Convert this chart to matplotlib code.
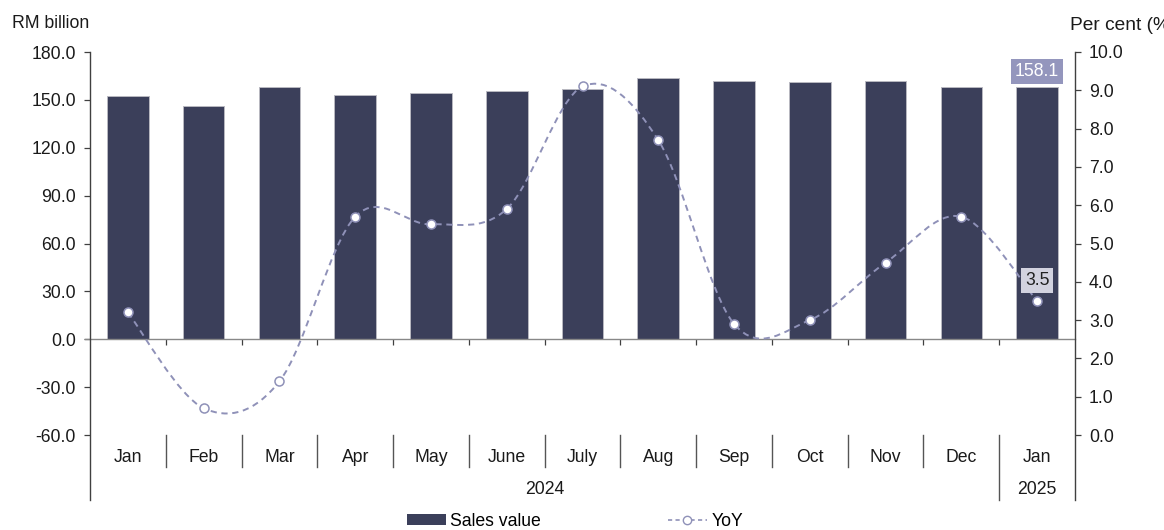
import matplotlib
matplotlib.use("Agg")
import matplotlib.pyplot as plt
from matplotlib.path import Path
from matplotlib.patches import PathPatch, Patch
from matplotlib.lines import Line2D
import matplotlib.transforms as mtransforms
import numpy as np

plt.rcParams['font.family'] = ['Liberation Sans', 'DejaVu Sans']

# ---- data ----
months = ['Jan', 'Feb', 'Mar', 'Apr', 'May', 'June', 'July', 'Aug', 'Sep', 'Oct', 'Nov', 'Dec', 'Jan']
years = ['2024', '2025']
year_counts = [12, 1]
sales_value = [152.3, 145.9, 158.2, 153.0, 154.4, 155.6, 156.7, 163.6, 161.7, 161.1, 161.7, 158.0, 158.1]
yoy = [3.2, 0.7, 1.4, 5.7, 5.5, 5.9, 9.1, 7.7, 2.9, 3.0, 4.5, 5.7, 3.5]
left_ticks = [-60, -30, 0, 30, 60, 90, 120, 150, 180]
right_ticks = [0, 1, 2, 3, 4, 5, 6, 7, 8, 9, 10]

BAR = '#3b3f5a'
LINE = '#8f91b8'
AXC = '#404040'
FS = 12.7

fig = plt.figure(figsize=(11.64, 5.30), dpi=100)
ax = fig.add_axes([90 / 1164, 1 - 435 / 530, (1075 - 90) / 1164, (435 - 52) / 530])
ax2 = ax.twinx()

x = np.arange(len(months))
ax.bar(x, sales_value, width=0.55, color=BAR, edgecolor='#b8b8c0', linewidth=0.7, zorder=2)
ax.set_xlim(-0.5, len(months) - 0.5)
ax.set_ylim(-60, 180)
ax.set_yticks(left_ticks)
ax.set_yticklabels([f'{v:.1f}' for v in left_ticks], fontsize=FS, color='#1a1a1a')
ax.tick_params(axis='y', direction='out', length=4, width=0.9, color=AXC, pad=6)

# category axis drawn at zero
for s in ['top', 'right', 'left']:
    ax.spines[s].set_visible(False)
ax.spines['bottom'].set_position(('data', 0))
ax.spines['bottom'].set_color('#888888')
ax.spines['bottom'].set_linewidth(1.0)
ax.spines['bottom'].set_bounds(-0.56, len(months) - 0.5)
ax.set_xticks(np.arange(len(months) - 1) + 0.5)
ax.set_xticklabels([])
ax.tick_params(axis='x', direction='out', length=4, width=0.9, color=AXC)

# vertical axis lines extend down past the category labels
ext = -65 / 383
for xa in (0, 1):
    ax.add_line(Line2D([xa, xa], [ext, 1], transform=ax.transAxes, color=AXC,
                       linewidth=1.0, clip_on=False, zorder=5))

# category separators and labels
trans = mtransforms.blended_transform_factory(ax.transData, ax.transAxes)
for i in range(len(months) - 1):
    bottom = ext if i + 1 == year_counts[0] else -32 / 383
    ax.add_line(Line2D([i + 0.5, i + 0.5], [0, bottom], transform=trans, color='#555555',
                       linewidth=1.0, clip_on=False))
for i, m in enumerate(months):
    ax.text(i, -23 / 383, m, transform=trans, ha='center', va='center', fontsize=FS, color='#1a1a1a')
start = 0
for yr, n in zip(years, year_counts):
    ax.text(start + (n - 1) / 2, -55 / 383, yr, transform=trans, ha='center', va='center',
            fontsize=FS, color='#1a1a1a')
    start += n

# YoY smoothed line (cubic Bezier through each point)
ax2.set_ylim(0, 10)
ax2.set_yticks(right_ticks)
ax2.set_yticklabels([f'{v:.1f}' for v in right_ticks], fontsize=FS, color='#1a1a1a')
ax2.tick_params(axis='y', direction='out', length=4, width=0.9, color=AXC, pad=6)
for s in ['top', 'right', 'left', 'bottom']:
    ax2.spines[s].set_visible(False)

pts = np.column_stack([x, yoy]).astype(float)
verts = [pts[0]]
codes = [Path.MOVETO]
n = len(pts)
for i in range(n - 1):
    p0 = pts[max(i - 1, 0)]
    p1 = pts[i]
    p2 = pts[i + 1]
    p3 = pts[min(i + 2, n - 1)]
    c1 = p1 + (p2 - p0) / 6
    c2 = p2 - (p3 - p1) / 6
    verts += [c1, c2, p2]
    codes += [Path.CURVE4] * 3
curve = PathPatch(Path(verts, codes), facecolor='none', edgecolor=LINE, linewidth=1.4,
                  linestyle=(0, (3.2, 2.4)), zorder=3)
ax2.add_patch(curve)
ax2.plot(x, yoy, linestyle='none', marker='o', markersize=6.5, markerfacecolor='white',
         markeredgecolor=LINE, markeredgewidth=1.1, zorder=4)

# value labels for latest month
ax.annotate(f'{sales_value[-1]:.1f}', (x[-1], sales_value[-1]), xytext=(0, 11),
            textcoords='offset points', ha='center', va='center', fontsize=FS, color='white',
            bbox=dict(boxstyle='square,pad=0.22', facecolor='#9496bd', edgecolor='none'), zorder=6)
ax2.annotate(f'{yoy[-1]:.1f}', (x[-1], yoy[-1]), xytext=(0, 14.5),
             textcoords='offset points', ha='center', va='center', fontsize=FS, color='#222222',
             bbox=dict(boxstyle='square,pad=0.22', facecolor='#d2d2df', edgecolor='none'), zorder=6)

# axis titles
fig.text(12 / 1164, 1 - 24 / 530, 'RM billion', ha='left', va='center', fontsize=FS, color='#1a1a1a')
fig.text(1070 / 1164, 1 - 26 / 530, 'Per cent (%)', ha='left', va='center', fontsize=13.8, color='#1a1a1a')

# legend
handles = [Patch(facecolor=BAR, edgecolor='none'),
           Line2D([], [], color=LINE, linestyle=(0, (2.5, 2)), linewidth=1.2, marker='o',
                  markersize=6, markerfacecolor='white', markeredgecolor=LINE)]
fig.legend(handles, ['Sales value', 'YoY'], loc='center', bbox_to_anchor=(0.494, 1 - 521 / 530),
           ncol=2, frameon=False, fontsize=FS, handlelength=2.2, handleheight=0.6,
           handletextpad=0.25, columnspacing=7.2)

fig.savefig('out.png', dpi=100)
